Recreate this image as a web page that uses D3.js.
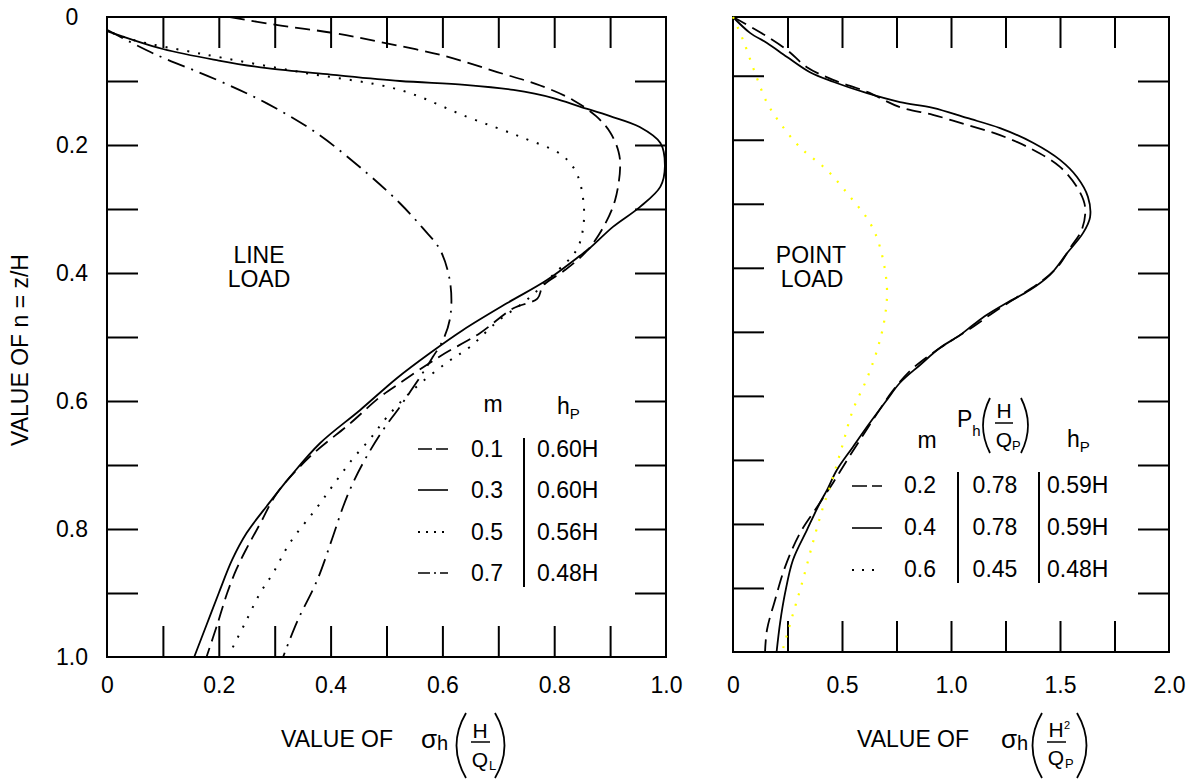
<!DOCTYPE html>
<html>
<head>
<meta charset="UTF-8" />
<script src="https://cdn.jsdelivr.net/npm/d3@7"></script>
<style>
  body { margin: 0; background: #fff; }
  svg { display: block; background: #fff; }
  text { font-family: Arial, "Liberation Sans", sans-serif; fill: #000; }
</style>
</head>
<body>
<svg width="1187" height="783"></svg>
<script>
// ---- data: [value of sigma, n = z/H] ----
const lineM = ['0.1', '0.3', '0.5', '0.7'];
const lineHp = ['0.60H', '0.60H', '0.56H', '0.48H'];
const line01 = [[0.22,0],[0.30,0.012],[0.405,0.025],[0.488,0.039],[0.60,0.06],[0.698,0.086],[0.775,0.107],[0.834,0.13],[0.875,0.155],[0.90,0.18],[0.915,0.21],[0.918,0.234],[0.909,0.286],[0.89,0.325],[0.86,0.364],[0.82,0.395],[0.78,0.42],[0.77,0.44],[0.727,0.455],[0.667,0.494],[0.596,0.53],[0.524,0.572],[0.488,0.594],[0.435,0.635],[0.363,0.687],[0.304,0.744],[0.275,0.79],[0.25,0.83],[0.232,0.862],[0.215,0.9],[0.197,0.95],[0.178,1.0]];
const line03 = [[0,0.022],[0.1,0.05],[0.2,0.068],[0.286,0.08],[0.4,0.09],[0.524,0.1],[0.64,0.106],[0.727,0.114],[0.80,0.127],[0.846,0.14],[0.90,0.155],[0.953,0.172],[0.99,0.197],[0.998,0.234],[0.99,0.265],[0.953,0.297],[0.905,0.328],[0.864,0.361],[0.852,0.369],[0.787,0.411],[0.716,0.447],[0.637,0.489],[0.578,0.525],[0.519,0.564],[0.453,0.614],[0.381,0.666],[0.327,0.719],[0.286,0.764],[0.25,0.806],[0.224,0.848],[0.2,0.9],[0.178,0.95],[0.156,1.0]];
const line05 = [[0.01,0.025],[0.047,0.036],[0.166,0.057],[0.345,0.086],[0.524,0.114],[0.644,0.156],[0.739,0.187],[0.814,0.216],[0.84,0.244],[0.852,0.286],[0.852,0.328],[0.84,0.364],[0.798,0.403],[0.751,0.442],[0.698,0.476],[0.65,0.515],[0.608,0.54],[0.547,0.583],[0.501,0.625],[0.47,0.66],[0.44,0.69],[0.41,0.725],[0.376,0.766],[0.327,0.822],[0.297,0.869],[0.274,0.9],[0.247,0.947],[0.225,0.985]];
const line07 = [[0,0.02],[0.083,0.057],[0.196,0.098],[0.286,0.135],[0.376,0.182],[0.465,0.244],[0.524,0.291],[0.565,0.33],[0.596,0.364],[0.614,0.416],[0.614,0.469],[0.601,0.505],[0.583,0.531],[0.565,0.556],[0.524,0.609],[0.494,0.645],[0.465,0.686],[0.44,0.728],[0.422,0.766],[0.404,0.812],[0.376,0.88],[0.34,0.945],[0.315,1.0]];

const pointM = ['0.2', '0.4', '0.6'];
const pointPh = ['0.78', '0.78', '0.45'];
const pointHp = ['0.59H', '0.59H', '0.48H'];
const point02 = [[0,0],[0.124,0.024],[0.248,0.052],[0.339,0.079],[0.459,0.099],[0.615,0.118],[0.766,0.142],[0.917,0.154],[1.073,0.17],[1.225,0.186],[1.376,0.209],[1.5,0.236],[1.578,0.268],[1.615,0.299],[1.6,0.335],[1.546,0.364],[1.49,0.393],[1.4,0.42],[1.3,0.442],[1.2,0.464],[1.1,0.488],[1.0,0.51],[0.9,0.533],[0.81,0.558],[0.73,0.59],[0.66,0.625],[0.59,0.662],[0.523,0.698],[0.46,0.733],[0.385,0.772],[0.307,0.813],[0.239,0.866],[0.193,0.918],[0.156,0.965],[0.147,1.0]];
const point04 = [[0,0],[0.078,0.025],[0.156,0.041],[0.248,0.063],[0.353,0.087],[0.459,0.102],[0.615,0.12],[0.766,0.134],[0.917,0.143],[1.073,0.159],[1.225,0.175],[1.376,0.198],[1.5,0.225],[1.578,0.252],[1.628,0.283],[1.638,0.315],[1.606,0.34],[1.532,0.372],[1.454,0.406],[1.362,0.43],[1.257,0.45],[1.165,0.469],[1.101,0.485],[1.041,0.501],[0.95,0.521],[0.858,0.548],[0.766,0.576],[0.706,0.603],[0.628,0.639],[0.55,0.677],[0.477,0.713],[0.431,0.745],[0.399,0.765],[0.339,0.808],[0.275,0.855],[0.239,0.907],[0.216,0.954],[0.2,1.0]];
const point06 = [[0,0],[0.046,0.036],[0.1,0.087],[0.156,0.135],[0.216,0.167],[0.307,0.205],[0.431,0.241],[0.537,0.283],[0.628,0.324],[0.674,0.362],[0.706,0.425],[0.697,0.472],[0.665,0.52],[0.615,0.569],[0.55,0.619],[0.5,0.677],[0.445,0.74],[0.413,0.772],[0.367,0.827],[0.317,0.891],[0.271,0.945],[0.225,1.0]];

const leftXLabels = [0, 0.2, 0.4, 0.6, 0.8, 1.0];
const leftYLabels = [0, 0.2, 0.4, 0.6, 0.8, 1.0];
const rightXLabels = [0, 0.5, 1.0, 1.5, 2.0];
const leftMinor = [0.1, 0.2, 0.3, 0.4, 0.5, 0.6, 0.7, 0.8, 0.9];
const rightMinor = [0.25, 0.5, 0.75, 1.0, 1.25, 1.5, 1.75];

const svg = d3.select('svg');
const fmt = d => (d === 0 ? '0' : d3.format('.1f')(d));
const FS = 23;

// scales
const xL = d3.scaleLinear().domain([0, 1]).range([107, 666]);
const yL = d3.scaleLinear().domain([0, 1]).range([17, 657]);
const xR = d3.scaleLinear().domain([0, 2]).range([733, 1169]);
const yR = d3.scaleLinear().domain([0, 1]).range([17, 652]);
const yRTicks = d3.scaleLinear().domain([0, 1]).range([11.7, 652]); // left ticks of right panel sit a little higher

function ticks(axis, transform) {
  svg.append('g')
    .attr('transform', transform)
    .call(axis.tickSizeOuter(0).tickFormat(''))
    .call(g => g.select('.domain').remove())
    .call(g => g.selectAll('line').attr('stroke', '#000').attr('stroke-width', 2));
}
const TL = -31;
// left panel ticks
ticks(d3.axisTop(xL).tickValues(leftMinor).tickSizeInner(TL), `translate(0,${yL(0)})`);
ticks(d3.axisBottom(xL).tickValues(leftMinor).tickSizeInner(TL), `translate(0,${yL(1)})`);
ticks(d3.axisLeft(yL).tickValues(leftMinor).tickSizeInner(TL), `translate(${xL(0)},0)`);
ticks(d3.axisRight(yL).tickValues(leftMinor).tickSizeInner(TL), `translate(${xL(1)},0)`);
// right panel ticks
ticks(d3.axisTop(xR).tickValues(rightMinor).tickSizeInner(TL), `translate(0,${yR(0)})`);
ticks(d3.axisBottom(xR).tickValues(rightMinor).tickSizeInner(TL), `translate(0,${yR(1)})`);
ticks(d3.axisLeft(yRTicks).tickValues(leftMinor).tickSizeInner(TL), `translate(${xR(0)},0)`);
ticks(d3.axisRight(yL).tickValues(leftMinor).tickSizeInner(TL), `translate(${xR(2)},0)`);

// frames
svg.append('rect').attr('x', xL(0)).attr('y', yL(0)).attr('width', xL(1) - xL(0)).attr('height', yL(1) - yL(0))
  .attr('fill', 'none').attr('stroke', '#000').attr('stroke-width', 2);
svg.append('rect').attr('x', xR(0)).attr('y', yR(0)).attr('width', xR(2) - xR(0)).attr('height', yR(1) - yR(0))
  .attr('fill', 'none').attr('stroke', '#000').attr('stroke-width', 2);

// tick labels
function labels(axis, transform, fix) {
  svg.append('g')
    .attr('transform', transform)
    .call(axis.tickSize(0).tickFormat(fmt))
    .call(g => g.select('.domain').remove())
    .call(g => g.attr('font-size', FS).attr('font-family', 'Arial, "Liberation Sans", sans-serif'))
    .call(fix || (() => {}));
}
labels(d3.axisBottom(xL).tickValues(leftXLabels).tickPadding(20), `translate(0,${yL(1)})`);
labels(d3.axisBottom(xR).tickValues(rightXLabels).tickPadding(25), `translate(0,${yR(1)})`);
labels(d3.axisLeft(yL).tickValues(leftYLabels), `translate(${xL(0)},0)`,
  g => g.selectAll('text').attr('x', -35).attr('text-anchor', 'middle'));

// curves
const lineL = d3.line().x(d => xL(d[0])).y(d => yL(d[1])).curve(d3.curveCatmullRom.alpha(0.5));
const lineR = d3.line().x(d => xR(d[0])).y(d => yR(d[1])).curve(d3.curveCatmullRom.alpha(0.5));
const dashes = { dash: '15,7', solid: null, dot: '2,9', dashdot: '18,7,2,7' };

const leftSeries = [
  { data: line01, style: 'dash' },
  { data: line03, style: 'solid' },
  { data: line05, style: 'dot' },
  { data: line07, style: 'dashdot' }
];
const rightSeries = [
  { data: point02, style: 'dash', color: '#000' },
  { data: point04, style: 'solid', color: '#000' },
  { data: point06, style: 'dot', color: '#ffff00' }
];
svg.append('g').selectAll('path').data(leftSeries).join('path')
  .attr('d', d => lineL(d.data)).attr('fill', 'none').attr('stroke', '#000')
  .attr('stroke-width', d => d.style === 'dot' ? 2 : 1.8)
  .attr('stroke-dasharray', d => dashes[d.style]);
svg.append('g').selectAll('path').data(rightSeries).join('path')
  .attr('d', d => lineR(d.data)).attr('fill', 'none').attr('stroke', d => d.color)
  .attr('stroke-width', d => d.style === 'dot' ? 2.2 : 1.8)
  .attr('stroke-dasharray', d => dashes[d.style]);

// helpers for free text
function txt(x, y, s, size, anchor) {
  return svg.append('text').attr('x', x).attr('y', y).attr('font-size', size || FS)
    .attr('text-anchor', anchor || 'start').text(s);
}
function path(d, w) {
  svg.append('path').attr('d', d).attr('fill', 'none').attr('stroke', '#000').attr('stroke-width', w || 1.8);
}

// y title
svg.append('text').attr('transform', 'translate(28,350) rotate(-90)').attr('text-anchor', 'middle')
  .attr('font-size', FS).text('VALUE OF n = z/H');

// in-panel titles
txt(259, 263, 'LINE', FS, 'middle');
txt(259, 287, 'LOAD', FS, 'middle');
txt(811, 263, 'POINT', FS, 'middle');
txt(812, 287, 'LOAD', FS, 'middle');

// left legend
const legLeft = { sample: 418, num: 487, bar: 524, hp: 537, rows: [457, 498, 540, 581] };
txt(493, 412, 'm', FS, 'middle');
const hL = txt(557, 414, 'h', FS);
hL.append('tspan').attr('font-size', 15).attr('dy', 5).text('P');
legLeft.rows.forEach((y, i) => {
  const st = leftSeries[i].style;
  const sd = { dash: '14,4', solid: null, dot: '2,6', dashdot: '12,4,2,4' }[st];
  svg.append('line').attr('x1', legLeft.sample).attr('x2', legLeft.sample + 30)
    .attr('y1', y - 8).attr('y2', y - 8).attr('stroke', '#000')
    .attr('stroke-width', st === 'dot' ? 1.8 : 1.6).attr('stroke-dasharray', sd);
  txt(legLeft.num, y, lineM[i], FS, 'middle');
  txt(legLeft.hp, y, lineHp[i], FS);
});
path(`M${legLeft.bar},438V587`, 2);

// right legend
const legRight = { sample: 852, num: 920, bar1: 958, ph: 995, bar2: 1039, hp: 1047, rows: [493, 535, 577] };
txt(927, 448, 'm', FS, 'middle');
const pH = txt(957, 427, 'P', FS);
pH.append('tspan').attr('font-size', 15).attr('dy', 9).text('h');
path('M990,398Q976,425.5 990,453');
txt(1004, 418, 'H', 21, 'middle');
path('M995,423H1013', 1.5);
txt(1004, 447, 'Q', 21, 'middle');
txt(1012, 450, 'P', 13);
path('M1021,398Q1035,425.5 1021,453');
const hR = txt(1067, 447, 'h', FS);
hR.append('tspan').attr('font-size', 15).attr('dy', 5).text('P');
legRight.rows.forEach((y, i) => {
  const st = rightSeries[i].style;
  const sd = { dash: '15,5', solid: null, dot: '2,8' }[st];
  svg.append('line').attr('x1', legRight.sample).attr('x2', legRight.sample + 30)
    .attr('y1', y - 7).attr('y2', y - 7).attr('stroke', '#000')
    .attr('stroke-width', st === 'dot' ? 1.8 : 1.6).attr('stroke-dasharray', sd);
  txt(legRight.num, y, pointM[i], FS, 'middle');
  txt(legRight.ph, y, pointPh[i], FS, 'middle');
  txt(legRight.hp, y, pointHp[i], FS);
});
path(`M${legRight.bar1},472V583`, 2);
path(`M${legRight.bar2},472V583`, 2);

// x titles
txt(281, 747, 'VALUE OF', FS);
const s1 = txt(421, 748, 'σ', 26);
s1.append('tspan').attr('font-size', 20).attr('dy', 2).text('h');
path('M466,713Q447,745.5 466,778');
txt(480, 738, 'H', 21, 'middle');
path('M471,742H490', 1.5);
txt(480, 767, 'Q', 21, 'middle');
txt(489, 770, 'L', 13);
path('M495,713Q514,745.5 495,778');

txt(857, 747, 'VALUE OF', FS);
const s2 = txt(1001, 748, 'σ', 26);
s2.append('tspan').attr('font-size', 20).attr('dy', 2).text('h');
path('M1042,713Q1023,745.5 1042,778');
txt(1056, 737, 'H', 21, 'middle');
txt(1064, 729, '2', 11);
path('M1047,742H1066', 1.5);
txt(1056, 765, 'Q', 21, 'middle');
txt(1065, 768, 'P', 13);
path('M1077,713Q1096,745.5 1077,778');
</script>
</body>
</html>
